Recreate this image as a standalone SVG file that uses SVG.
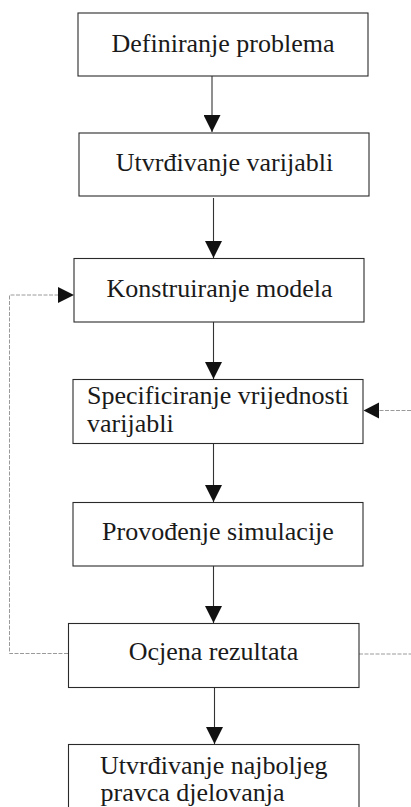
<svg xmlns="http://www.w3.org/2000/svg" width="411" height="807" viewBox="0 0 411 807">
<style>
.box{fill:#fff;stroke:#2a2a2a;stroke-width:1.1}
.t{font-family:"Liberation Serif","Times New Roman",serif;font-size:26px;fill:#1a1a1a}
.c{text-anchor:middle}
.arr{stroke:#333;stroke-width:1.1;fill:none}
.fb{stroke:#9a9a9a;stroke-width:1;fill:none;stroke-dasharray:4 1.5}
</style>
<defs>
<marker id="ah" markerUnits="userSpaceOnUse" markerWidth="17" markerHeight="17" viewBox="0 0 16 16" refX="16" refY="8" orient="auto">
<path d="M0,0 L16,8 L0,16 Z" fill="#111"/>
</marker>
</defs>
<rect width="411" height="807" fill="#fff"/>
<g id="connectors">
<line class="arr" x1="212" y1="76" x2="212" y2="132" marker-end="url(#ah)"/>
<line class="arr" x1="213.5" y1="198" x2="213.5" y2="258" marker-end="url(#ah)"/>
<line class="arr" x1="213.5" y1="322" x2="213.5" y2="379" marker-end="url(#ah)"/>
<line class="arr" x1="213.5" y1="444" x2="213.5" y2="502" marker-end="url(#ah)"/>
<line class="arr" x1="213.5" y1="566" x2="213.5" y2="623" marker-end="url(#ah)"/>
<line class="arr" x1="214.5" y1="687" x2="214.5" y2="744" marker-end="url(#ah)"/>
<path class="fb" d="M68,653.5 H9.5 V295 H58"/>
<path d="M58,287 L74,295 L58,303 Z" fill="#111"/>
<path class="fb" d="M411,410.5 H379"/>
<path d="M379,402.5 L363.5,410.5 L379,418.5 Z" fill="#111"/>
<path class="fb" d="M359,654 H411"/>
</g>
<g id="n1"><rect class="box" x="78" y="13" width="290" height="63"/><text class="t c" x="223" y="52">Definiranje problema</text></g>
<g id="n2"><rect class="box" x="79" y="133" width="290" height="63"/><text class="t c" x="224.5" y="170.5">Utvrđivanje varijabli</text></g>
<g id="n3"><rect class="box" x="74" y="258.5" width="290" height="63.5"/><text class="t c" x="219.5" y="296.5">Konstruiranje modela</text></g>
<g id="n4"><rect class="box" x="73" y="379.5" width="290" height="64"/><text class="t" x="87" y="403.5">Specificiranje vrijednosti</text><text class="t" x="87" y="431.5">varijabli</text></g>
<g id="n5"><rect class="box" x="73" y="502.5" width="290" height="63.5"/><text class="t c" x="218" y="539.5">Provođenje simulacije</text></g>
<g id="n6"><rect class="box" x="68.5" y="623.5" width="290.5" height="64"/><text class="t c" x="213.5" y="660">Ocjena rezultata</text></g>
<g id="n7"><rect class="box" x="68.5" y="744.5" width="290.5" height="80"/><text class="t" x="100" y="773.5">Utvrđivanje najboljeg</text><text class="t" x="100.5" y="800.5">pravca djelovanja</text></g>
</svg>
